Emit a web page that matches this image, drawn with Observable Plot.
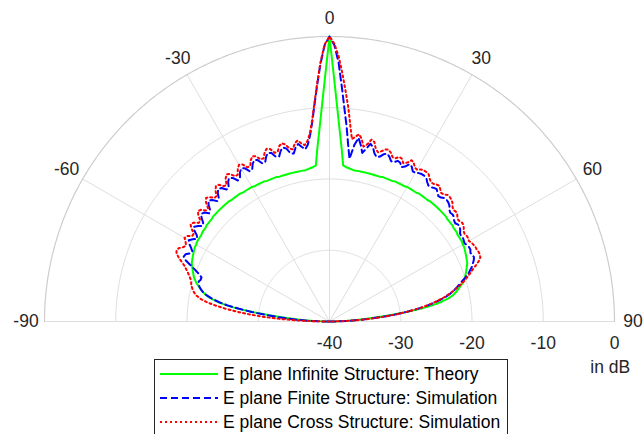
<!DOCTYPE html>
<html>
<head>
<meta charset="utf-8">
<script src="https://cdn.jsdelivr.net/npm/d3@7"></script>
<script src="https://cdn.jsdelivr.net/npm/@observablehq/plot@0.6"></script>
<style>
  html, body { margin: 0; padding: 0; background: #fff; overflow: hidden; }
  #wrap { position: relative; width: 643px; height: 434px; font-family: "Liberation Sans", Arial, sans-serif; }
  #legend { position: absolute; left: 154px; top: 359px; width: 354px; height: 84px; border: 1px solid #262626; background: #fff; box-sizing: border-box; padding-top: 2px; }
  .row { display: flex; align-items: center; height: 24px; font-size: 17.5px; color: #000; white-space: nowrap; }
  .row svg { margin-left: 5px; margin-right: 5px; }
</style>
</head>
<body>
<div id="wrap"><div id="chart"></div><div id="legend"></div></div>
<script>
// Angles in degrees (-90 .. 90, 1° step)
const angles = d3.range(-90, 91, 1);

// E plane Infinite Structure: Theory (dB)
const theory = [
  -40, -39, -37.8, -36.5, -35, -33.5, -31.5, -29.3, -27, -25.3,          // -90..-81
  -24, -23, -22.3, -21.8, -21.4, -21, -20.6, -20.3, -20, -19.8,          // -80..-71
  -19.6, -19.4, -19.2, -19, -18.9, -18.8, -18.7, -18.6, -18.5, -18.4,    // -70..-61
  -18.4, -18.3, -18.3, -18.3, -18.3, -18.2, -18.2, -18.2, -18.1, -18.1,  // -60..-51
  -18.1, -18.1, -18, -18, -18, -18, -18, -18, -18, -18,                  // -50..-41
  -18, -18.1, -18.1, -18.1, -18.1, -18.1, -18.2, -18.2, -18.2, -18.2,    // -40..-31
  -18.2, -18.3, -18.3, -18.3, -18.3, -18.3, -18.4, -18.4, -18.4, -18.4,  // -30..-21
  -18.4, -18.5, -18.5, -18.5, -18.5, -18.5, -18.5, -18.5, -18.5, -18.5,  // -20..-11
  -18.5, -18.5, -18.4, -18.3, -18.2, -18, -15.6, -13, -9.7, -5.5,        // -10..-1
  0,                                                                     // 0
  -5.5, -9.7, -13, -15.6, -18, -18.2, -18.3, -18.4, -18.5, -18.5,        // 1..10
  -18.5, -18.5, -18.5, -18.5, -18.5, -18.5, -18.5, -18.5, -18.5, -18.4,  // 11..20
  -18.4, -18.4, -18.4, -18.4, -18.3, -18.3, -18.3, -18.3, -18.3, -18.2,  // 21..30
  -18.2, -18.2, -18.2, -18.2, -18.1, -18.1, -18.1, -18.1, -18.1, -18,    // 31..40
  -18, -18, -18, -18, -18, -18, -18, -18, -18.1, -18.1,                  // 41..50
  -18.1, -18.1, -18.2, -18.2, -18.2, -18.3, -18.3, -18.3, -18.3, -18.4,  // 51..60
  -18.4, -18.5, -18.6, -18.7, -18.8, -18.9, -19, -19.2, -19.4, -19.6,    // 61..70
  -19.8, -20, -20.3, -20.6, -21, -21.4, -21.8, -22.3, -23, -24,          // 71..80
  -25.3, -27, -29.3, -31.5, -33.5, -35, -36.5, -37.8, -39, -40           // 81..90
];

// E plane Finite Structure: Simulation (dB)
const finite = [
  -40, -38.5, -37, -35.5, -34, -32.5, -30.8, -29, -27.2, -25.5,          // -90..-81
  -24.2, -23.2, -22.4, -21.8, -21.4, -21.1, -20.9, -20.8, -21.0, -21.0,  // -80..-71
  -20.5, -19.8, -19.0, -18.1, -17.6, -17.7, -18.2, -18.4, -18.0, -17.5,  // -70..-61
  -17.2, -17.6, -18.1, -17.8, -17.1, -16.8, -17.2, -17.7, -17.5, -16.9,  // -60..-51
  -16.5, -16.7, -17.3, -17.1, -16.4, -16.0, -16.3, -16.9, -16.8, -16.1,  // -50..-41
  -15.7, -15.9, -16.5, -16.5, -15.8, -15.4, -15.7, -16.4, -16.3, -15.6,  // -40..-31
  -15.2, -15.4, -16.1, -16.1, -15.4, -15.0, -15.2, -15.9, -15.9, -15.2,  // -30..-21
  -14.8, -15.0, -15.7, -15.8, -15.1, -14.7, -15.0, -15.8, -15.9, -15.1,  // -20..-11
  -14.7, -15.2, -15.6, -15.0, -13.8, -12.0, -9.6, -6.8, -3.8, -1.2,      // -10..-1
  0,                                                                     // 0
  -1.2, -3.6, -7.0, -10.0, -12.5, -15.0, -17.0, -15.0, -13.9, -14.8,     // 1..10
  -15.9, -15.2, -14.4, -14.8, -15.6, -16.0, -15.8, -15.3, -15.1, -15.4,  // 11..20
  -15.9, -15.9, -15.5, -15.6, -16.1, -15.8, -15.2, -15.4, -15.9, -15.9,  // 21..30
  -15.7, -15.6, -15.6, -15.7, -16.1, -16.4, -16.4, -16.2, -16.1, -16.4,  // 31..40
  -16.7, -16.6, -16.3, -16.3, -16.4, -16.6, -17.0, -17.2, -17.1, -17.2,  // 41..50
  -17.5, -17.6, -17.4, -17.4, -17.6, -17.9, -18.0, -17.9, -18.0, -18.1,  // 51..60
  -17.9, -17.8, -17.8, -18.0, -17.9, -17.8, -18.0, -18.3, -18.6, -19.0,  // 61..70
  -19.4, -19.9, -20.5, -21.0, -21.5, -22.0, -22.6, -23.3, -24.2, -25.2,  // 71..80
  -26.4, -27.7, -29.2, -30.8, -32.6, -34.2, -35.8, -37.3, -38.7, -40     // 81..90
];

// E plane Cross Structure: Simulation (dB)
const cross = [
  -40, -37.6, -35.3, -33, -30.8, -28.8, -27, -25.3, -23.8, -22.5,        // -90..-81
  -21.6, -21.0, -20.6, -20.3, -20.1, -19.9, -19.8, -19.6, -19.3, -19.0,  // -80..-71
  -18.6, -18.2, -17.6, -17.0, -16.5, -16.3, -16.5, -17.0, -17.2, -16.9,  // -70..-61
  -16.5, -16.7, -17.3, -17.3, -16.6, -16.2, -16.4, -17.0, -17.0, -16.3,  // -60..-51
  -15.9, -16.1, -16.7, -16.7, -15.9, -15.5, -15.7, -16.3, -16.3, -15.6,  // -50..-41
  -15.2, -15.3, -15.9, -16.0, -15.2, -14.8, -15.0, -15.7, -15.7, -15.0,  // -40..-31
  -14.6, -14.8, -15.5, -15.5, -14.8, -14.4, -14.6, -15.3, -15.3, -14.6,  // -30..-21
  -14.2, -14.4, -15.1, -15.1, -14.4, -14.1, -14.4, -15.1, -15.3, -14.5,  // -20..-11
  -14.2, -14.7, -15.0, -14.5, -13.5, -11.8, -9.4, -6.6, -3.6, -1.1,      // -10..-1
  0,                                                                     // 0
  -1.0, -2.8, -5.2, -7.6, -9.8, -12.2, -14.2, -13.8, -13.4, -14.0,       // 1..10
  -15.0, -14.6, -13.8, -14.0, -14.9, -15.3, -15.0, -14.6, -14.5, -14.8,  // 11..20
  -15.3, -15.3, -14.9, -15.0, -15.5, -15.2, -14.6, -14.8, -15.3, -15.4,  // 21..30
  -15.1, -15.0, -15.0, -15.1, -15.5, -15.8, -15.8, -15.6, -15.5, -15.8,  // 31..40
  -16.1, -16.0, -15.7, -15.7, -15.8, -16.0, -16.4, -16.6, -16.5, -16.6,  // 41..50
  -16.9, -17.0, -16.8, -16.8, -17.0, -17.3, -17.4, -17.3, -17.3, -17.4,  // 51..60
  -17.2, -17.1, -17.0, -17.0, -16.9, -16.9, -17.0, -17.4, -18.0, -18.6,  // 61..70
  -19.1, -19.6, -20.1, -20.7, -21.3, -22.0, -22.7, -23.5, -24.4, -25.4,  // 71..80
  -26.5, -27.8, -29.2, -30.7, -32.3, -34.0, -35.8, -37.5, -38.8, -40     // 81..90
];

const thetaTicks = [-90, -60, -30, 0, 30, 60, 90];
const rTicks = [-40, -30, -20, -10, 0];
const seriesNames = [
  "E plane Infinite Structure: Theory",
  "E plane Finite Structure: Simulation",
  "E plane Cross Structure: Simulation"
];

const rMin = -40;
const rad = (t) => t * Math.PI / 180;
const px = (t, v) => (Math.max(v, rMin) - rMin) * Math.sin(rad(t));
const py = (t, v) => (Math.max(v, rMin) - rMin) * Math.cos(rad(t));

const mk = (vals, name) => angles.map((t, i) => ({t, v: vals[i], name}));
const dTheory = mk(theory, seriesNames[0]);
const dFinite = mk(finite, seriesNames[1]);
const dCross = mk(cross, seriesNames[2]);

const gridAngles = d3.range(-90, 90.5, 0.5);
const innerRings = rTicks.slice(1, -1);
const ringData = innerRings.flatMap(r => gridAngles.map(t => ({r, t})));
const outerData = gridAngles.map(t => ({r: rTicks[rTicks.length - 1], t}));

const gridColor = "#dedede";
const textColor = "#262626";
const fs = 17.5;
const labelR = 42.6;

const chart = Plot.plot({
  width: 643,
  height: 434,
  marginTop: 36,
  marginBottom: 113,
  marginLeft: 44,
  marginRight: 29,
  x: {domain: [-40, 40], axis: null},
  y: {domain: [0, 40], axis: null},
  style: {fontFamily: "'Liberation Sans', Arial, sans-serif", fontSize: fs + "px", background: "#fff", overflow: "visible"},
  marks: [
    Plot.line(ringData, {x: d => px(d.t, d.r), y: d => py(d.t, d.r), z: "r", stroke: gridColor, strokeWidth: 1}),
    Plot.link(thetaTicks, {x1: 0, y1: 0, x2: t => px(t, 0), y2: t => py(t, 0), stroke: gridColor, strokeWidth: 1}),
    Plot.line(outerData, {x: d => px(d.t, d.r), y: d => py(d.t, d.r), stroke: "#cdcdcd", strokeWidth: 1.2}),
    Plot.line(dTheory, {x: d => px(d.t, d.v), y: d => py(d.t, d.v), stroke: "#00ff00", strokeWidth: 2}),
    Plot.line(dFinite, {x: d => px(d.t, d.v), y: d => py(d.t, d.v), stroke: "#0000ff", strokeWidth: 2, strokeDasharray: "7,4"}),
    Plot.line(dCross, {x: d => px(d.t, d.v), y: d => py(d.t, d.v), stroke: "#ff0000", strokeWidth: 2, strokeDasharray: "2,3"}),
    Plot.text(thetaTicks, {x: t => labelR * Math.sin(rad(t)), y: t => labelR * Math.cos(rad(t)), text: t => String(t), fill: textColor, fontSize: fs}),
    Plot.text(rTicks, {x: r => r - rMin, y: -3.1, text: r => String(r), fill: textColor, fontSize: fs}),
    Plot.text(["in dB"], {x: 39.4, y: -6.4, text: d => d, fill: textColor, fontSize: fs})
  ]
});
document.getElementById("chart").appendChild(chart);

// Legend
const legendStyles = [
  {stroke: "#00ff00", dash: null},
  {stroke: "#0000ff", dash: "7,4"},
  {stroke: "#ff0000", dash: "2,3"}
];
const legend = document.getElementById("legend");
seriesNames.forEach((name, i) => {
  const row = document.createElement("div");
  row.className = "row";
  const s = legendStyles[i];
  row.innerHTML = `<svg width="58" height="10"><line x1="0" y1="5" x2="58" y2="5" stroke="${s.stroke}" stroke-width="2" ${s.dash ? `stroke-dasharray="${s.dash}"` : ""}/></svg><span>${name}</span>`;
  legend.appendChild(row);
});
</script>
</body>
</html>
